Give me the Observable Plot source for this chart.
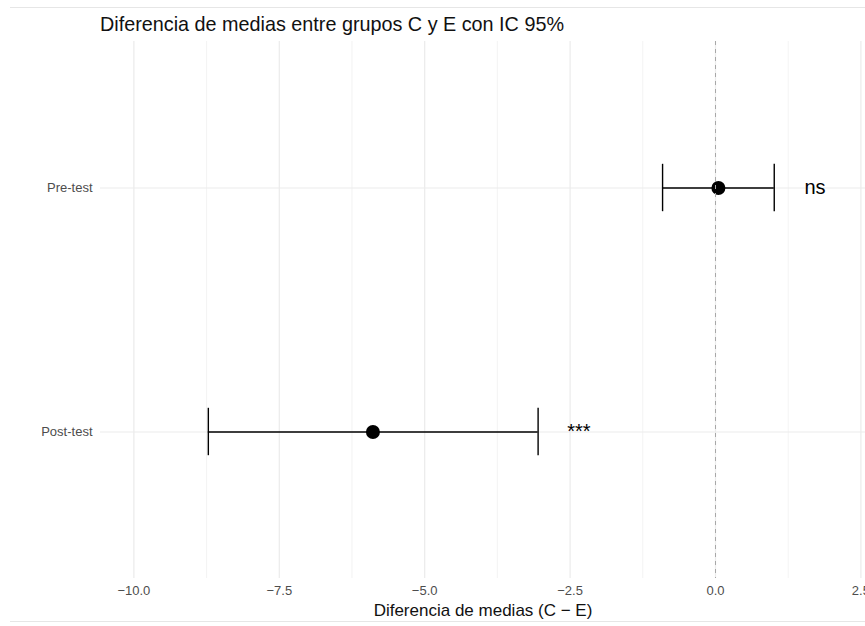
<!DOCTYPE html>
<html>
<head>
<meta charset="utf-8">
<script src="https://cdn.jsdelivr.net/npm/d3@7"></script>
<script src="https://cdn.jsdelivr.net/npm/@observablehq/plot@0.6"></script>
<style>
  html, body { margin: 0; padding: 0; background: white; overflow: hidden; }
  body { width: 865px; height: 626px; position: relative; font-family: "Liberation Sans", Arial, sans-serif; }
  #title { box-sizing: border-box; height: 40px; padding-top: 15px; padding-left: 100px; font-size: 19.8px; line-height: 19.8px; color: #111; white-space: nowrap; }
  .frame-line { position: absolute; left: 10px; right: 0; height: 1px; background: #e6e6e6; }
</style>
</head>
<body>
<div class="frame-line" style="top:7px"></div>
<div id="title">Diferencia de medias entre grupos C y E con IC 95%</div>
<div id="chart"></div>
<div class="frame-line" style="top:621px"></div>
<script>
// ---- data ----
const groups = ["Pre-test", "Post-test"];
const means = [0.05, -5.89];
const ciLow = [-0.91, -8.72];
const ciHigh = [1.01, -3.05];
const sigLabels = ["ns", "***"];
const xTicks = [-10, -7.5, -5, -2.5, 0, 2.5];
const xMinorTicks = [-8.75, -6.25, -3.75, -1.25, 1.25];
const xLabel = "Diferencia de medias (C \u2212 E)";
const labelGap = 0.7;

const data = groups.map((g, i) => ({group: g, mean: means[i], lo: ciLow[i], hi: ciHigh[i], sig: sigLabels[i]}));

const capInset = 73.8;

const chart = Plot.plot({
  width: 865,
  height: 586,
  marginTop: 1,
  marginBottom: 48,
  marginLeft: 100,
  marginRight: 0,
  style: {fontFamily: "'Liberation Sans', Arial, sans-serif", background: "transparent", overflow: "visible"},
  x: {domain: [-10.574, 2.579], label: null},
  y: {type: "band", domain: groups, paddingInner: 0.2, paddingOuter: 0.198, label: null},
  marks: [
    Plot.ruleX(xMinorTicks, {stroke: "#f2f2f2", strokeWidth: 0.9}),
    Plot.ruleX(xTicks, {stroke: "#ebebeb", strokeWidth: 1.2}),
    Plot.ruleY(groups, {y: d => d, stroke: "#ebebeb", strokeWidth: 1.2}),
    Plot.axisX({ticks: xTicks, tickFormat: d3.format(".1f"), tickSize: 0, tickPadding: 7, fontSize: 13, fill: "#4d4d4d", label: null}),
    Plot.axisY({tickSize: 0, tickPadding: 8, fontSize: 13, fill: "#4d4d4d", label: null}),
    Plot.ruleY(data, {y: "group", x1: "lo", x2: "hi", stroke: "black", strokeWidth: 1.4}),
    Plot.tickX(data, {x: "lo", y: "group", insetTop: capInset, insetBottom: capInset, stroke: "black", strokeWidth: 1.4}),
    Plot.tickX(data, {x: "hi", y: "group", insetTop: capInset, insetBottom: capInset, stroke: "black", strokeWidth: 1.4}),
    Plot.dot(data, {x: "mean", y: "group", r: 7, fill: "black", stroke: "none"}),
    Plot.ruleX([0], {stroke: "#a8a8a8", strokeWidth: 1, strokeDasharray: "4,4"}),
    Plot.text(data, {x: d => d.hi + labelGap, y: "group", text: "sig", fontSize: 20, fill: "black"}),
    Plot.text([xLabel], {frameAnchor: "bottom", dy: 37, lineAnchor: "bottom", fontSize: 17, fill: "#111"})
  ]
});
document.getElementById("chart").appendChild(chart);
</script>
</body>
</html>
